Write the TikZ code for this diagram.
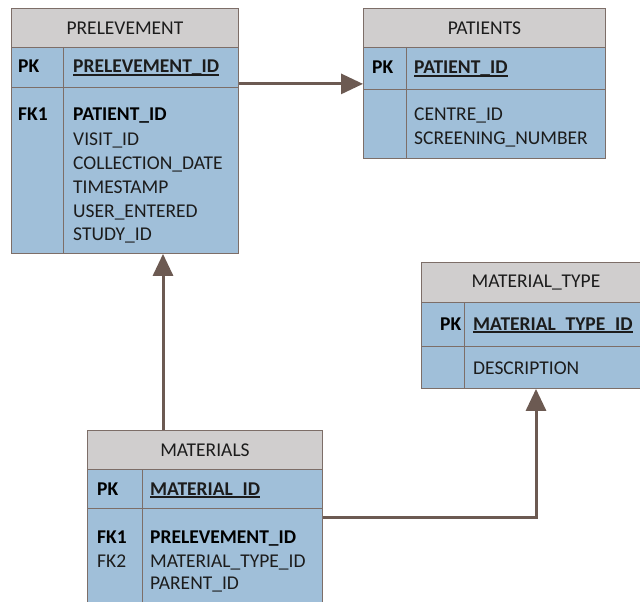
\documentclass[tikz,border=0pt]{standalone}
\usepackage{fontspec}
\setmainfont{Carlito}
\usetikzlibrary{arrows.meta,calc}

\definecolor{hdrgrey}{RGB}{208,206,206}
\definecolor{rowblue}{RGB}{160,191,217}
\definecolor{edgec}{RGB}{125,110,104}
\definecolor{linkc}{RGB}{108,90,82}
\definecolor{ink}{RGB}{28,28,28}

% bold key field with a rule just under the baseline
\newcommand\keyfield[1]{\setbox0\hbox{\bfseries #1}\rlap{\rule[-2.6pt]{\wd0}{1.3pt}}\box0}

\tikzset{
  tbox/.style={draw=edgec, line width=0.9pt, inner sep=0pt, anchor=north west},
  hdr/.style={tbox, fill=hdrgrey, font=\fontsize{19.5pt}{23pt}\selectfont, text=ink},
  rowbox/.style={tbox, fill=rowblue},
  divider/.style={draw=edgec, line width=0.9pt},
  fld/.style={anchor=base west, inner sep=0pt, font=\fontsize{19.5pt}{23pt}\selectfont, text=ink},
  keyfld/.style={fld, font=\fontsize{19.5pt}{23pt}\selectfont\bfseries, text=black},
  link/.style={draw=linkc, line width=3pt},
  linkarrow/.style={link, -{Triangle[length=22pt,width=20pt]}},
}

\begin{document}
\begin{tikzpicture}[x=1pt,y=-1pt]
\useasboundingbox (0,0) rectangle (640,602);
\clip (0,0) rectangle (640,602);
\fill[white] (0,0) rectangle (640,602);

% ---------- PRELEVEMENT ----------
\node[hdr, minimum width=227pt, minimum height=39pt] (prel-h) at (11,8) {PRELEVEMENT};
\node[rowbox, minimum width=227pt, minimum height=40pt] (prel-pk) at (11,47) {};
\node[rowbox, minimum width=227pt, minimum height=166pt] (prel-body) at (11,87) {};
\draw[divider] ($(prel-pk.north west)+(52,0)$) -- ($(prel-body.south west)+(52,0)$);
\node[keyfld] (prel-k1) at (18,73) {PK};
\node[fld] (prel-f1) at (73,73) {\keyfield{PRELEVEMENT\_ID}};
\node[keyfld] (prel-k2) at (18,121) {FK1};
\node[keyfld] (prel-f2) at (73,121) {PATIENT\_ID};
\node[fld] (prel-f3) at (73,145) {VISIT\_ID};
\node[fld] (prel-f4) at (73,169) {COLLECTION\_DATE};
\node[fld] (prel-f5) at (73,193) {TIMESTAMP};
\node[fld] (prel-f6) at (73,217) {USER\_ENTERED};
\node[fld] (prel-f7) at (73,240) {STUDY\_ID};

% ---------- PATIENTS ----------
\node[hdr, minimum width=242pt, minimum height=39pt] (pat-h) at (363,8) {PATIENTS};
\node[rowbox, minimum width=242pt, minimum height=42pt] (pat-pk) at (363,47) {};
\node[rowbox, minimum width=242pt, minimum height=69pt] (pat-body) at (363,89) {};
\draw[divider] ($(pat-pk.north west)+(43,0)$) -- ($(pat-body.south west)+(43,0)$);
\node[keyfld] (pat-k1) at (372,74) {PK};
\node[fld] (pat-f1) at (414,74) {\keyfield{PATIENT\_ID}};
\node[fld] (pat-f2) at (414,121) {CENTRE\_ID};
\node[fld] (pat-f3) at (414,144) {SCREENING\_NUMBER};

% ---------- MATERIAL_TYPE ----------
\node[hdr, minimum width=229pt, minimum height=40pt] (mt-h) at (421,262) {MATERIAL\_TYPE};
\node[rowbox, minimum width=229pt, minimum height=44pt] (mt-pk) at (421,302) {};
\node[rowbox, minimum width=229pt, minimum height=42pt] (mt-body) at (421,346) {};
\draw[divider] ($(mt-pk.north west)+(43,0)$) -- ($(mt-body.south west)+(43,0)$);
\node[keyfld] (mt-k1) at (440,330) {PK};
\node[fld] (mt-f1) at (473,330) {\keyfield{MATERIAL\_TYPE\_ID}};
\node[fld] (mt-f2) at (473,374) {DESCRIPTION};

% ---------- MATERIALS ----------
\node[hdr, minimum width=235pt, minimum height=39pt] (mat-h) at (87,430) {MATERIALS};
\node[rowbox, minimum width=235pt, minimum height=39pt] (mat-pk) at (87,469) {};
\node[rowbox, minimum width=235pt, minimum height=100pt] (mat-body) at (87,508) {};
\draw[divider] ($(mat-pk.north west)+(55,0)$) -- ($(mat-body.south west)+(55,0)$);
\node[keyfld] (mat-k1) at (97,495) {PK};
\node[fld] (mat-f1) at (150,495) {\keyfield{MATERIAL\_ID}};
\node[keyfld] (mat-k2) at (97,543) {FK1};
\node[keyfld] (mat-f2) at (150,543) {PRELEVEMENT\_ID};
\node[fld] (mat-k3) at (97,567) {FK2};
\node[fld] (mat-f3) at (150,567) {MATERIAL\_TYPE\_ID};
\node[fld] (mat-f4) at (150,589) {PARENT\_ID};

% ---------- relations ----------
\coordinate (prel-out) at ([yshift=4pt]prel-pk.south east);
\draw[linkarrow] (prel-out) -- (prel-out -| pat-pk.west);

\coordinate (mat-up) at ($(mat-h.north west)+(76,0)$);
\draw[linkarrow] (mat-up) -- (mat-up |- prel-body.south);

\coordinate (mat-out) at ($(mat-body.north east)+(0,9)$);
\coordinate (mt-in) at ($(mt-body.south west)+(115,0)$);
\draw[linkarrow] (mat-out) -| (mt-in);
\end{tikzpicture}
\end{document}
